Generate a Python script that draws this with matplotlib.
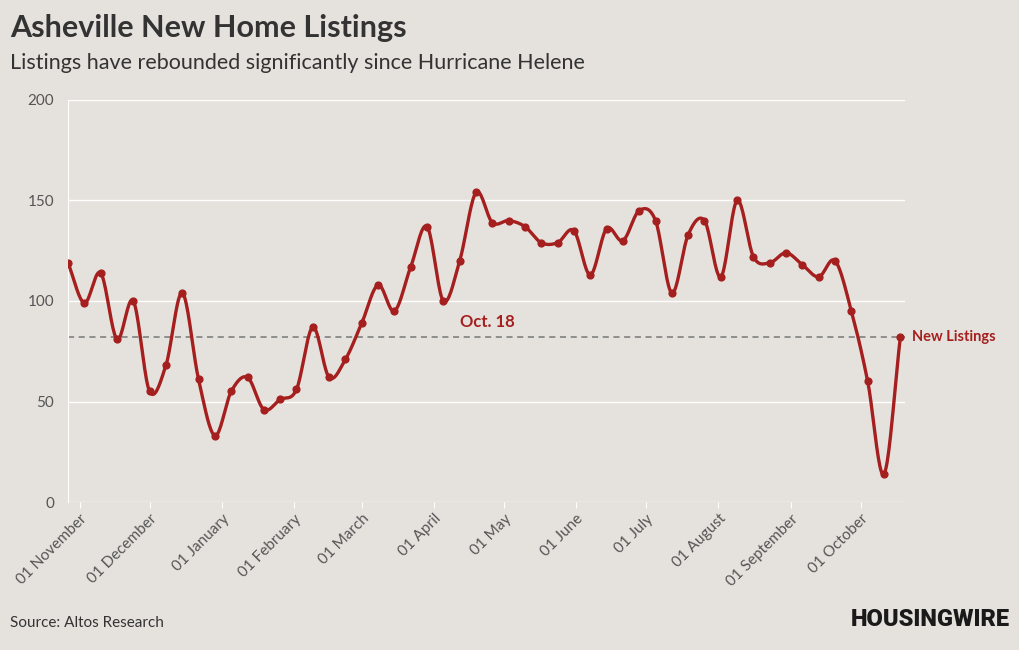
import numpy as np
import pandas as pd
import matplotlib
matplotlib.use("Agg")
import matplotlib.pyplot as plt
import matplotlib.dates as mdates

# weekly new listings, Asheville
start_date = "2023-10-27"
listings = [119, 99, 114, 81, 100, 55, 68, 104, 61, 33,
            55, 62, 46, 51, 56, 87, 62, 71, 89, 108,
            95, 117, 137, 100, 120, 154, 139, 140, 137, 129,
            129, 135, 113, 136, 130, 145, 140, 104, 133, 140,
            112, 150, 122, 119, 124, 118, 112, 120, 95, 60,
            14, 82]
dates = pd.date_range(start_date, periods=len(listings), freq="7D")
y_ticks = [0, 50, 100, 150, 200]
current_value = listings[-1]

bg = "#e5e2dd"
red = "#a51f1f"
txt = "#333333"
plt.rcParams["font.family"] = ["Lato", "DejaVu Sans"]


def catmull_rom(x, y, n=20):
    # smooth curve through the points (for drawing the line only)
    x = np.asarray(x, float)
    y = np.asarray(y, float)
    px = np.concatenate([[2 * x[0] - x[1]], x, [2 * x[-1] - x[-2]]])
    py = np.concatenate([[2 * y[0] - y[1]], y, [2 * y[-1] - y[-2]]])
    xs, ys = [], []
    t = np.linspace(0, 1, n, endpoint=False)
    for i in range(1, len(px) - 2):
        for P, out in ((px, xs), (py, ys)):
            p0, p1, p2, p3 = P[i - 1], P[i], P[i + 1], P[i + 2]
            out.append(0.5 * (2 * p1 + (-p0 + p2) * t
                              + (2 * p0 - 5 * p1 + 4 * p2 - p3) * t ** 2
                              + (-p0 + 3 * p1 - 3 * p2 + p3) * t ** 3))
    xs.append([x[-1]])
    ys.append([y[-1]])
    return np.concatenate(xs), np.concatenate(ys)


fig = plt.figure(figsize=(10.2, 6.5), dpi=100, facecolor=bg)
ax = fig.add_axes([68 / 1020, 148 / 650, (905 - 68) / 1020, 402 / 650])
ax.set_facecolor(bg)

xn = mdates.date2num(dates)
sx, sy = catmull_rom(xn, listings)
ax.plot(sx, sy, color=red, lw=2.4, zorder=3, solid_capstyle="round")
ax.scatter(xn, listings, s=24, color=red, zorder=4)

ax.axhline(current_value, color="#777777", lw=1.1, ls=(0, (4, 3)), zorder=2)
ax.text(mdates.date2num(pd.Timestamp("2024-04-12")), current_value + 3.5, "Oct. 18",
        color=red, fontsize=12, fontweight="bold", ha="left", va="bottom")
ax.text(xn[-1] + 5, current_value, "New Listings", color=red, fontsize=10.5,
        fontweight="bold", ha="left", va="center", clip_on=False)

ax.set_xlim(xn[0], xn[-1] + 2)
ax.set_ylim(0, 200)
ax.set_yticks(y_ticks)
ax.grid(axis="y", color="white", lw=1)
ax.set_axisbelow(True)
for s in ["top", "right", "bottom"]:
    ax.spines[s].set_visible(False)
ax.spines["left"].set_color("white")

ax.xaxis.set_major_locator(mdates.MonthLocator())
ax.xaxis.set_major_formatter(mdates.DateFormatter("%d %B"))
ax.tick_params(axis="x", colors="white", length=4, labelcolor="#555555",
               labelsize=11, pad=3)
ax.tick_params(axis="y", length=0, labelcolor="#555555", labelsize=11, pad=10)
for lab in ax.get_xticklabels():
    lab.set_rotation(45)
    lab.set_ha("right")
    lab.set_rotation_mode("anchor")

fig.text(10 / 1020, 1 - 28 / 650, "Asheville New Home Listings", fontsize=22,
         fontweight="bold", color=txt, va="center")
fig.text(10 / 1020, 1 - 63 / 650, "Listings have rebounded significantly since Hurricane Helene",
         fontsize=15.5, color=txt, va="center")
fig.text(10 / 1020, 1 - 623 / 650, "Source: Altos Research", fontsize=11, color=txt,
         va="center")
fig.text(1010 / 1020, 1 - 620 / 650, "HOUSINGWIRE", fontsize=17, fontweight="heavy",
         color="#1a1a1a", ha="right", va="center", family=["Roboto", "DejaVu Sans"])

fig.savefig("out.png", dpi=100, facecolor=bg)
